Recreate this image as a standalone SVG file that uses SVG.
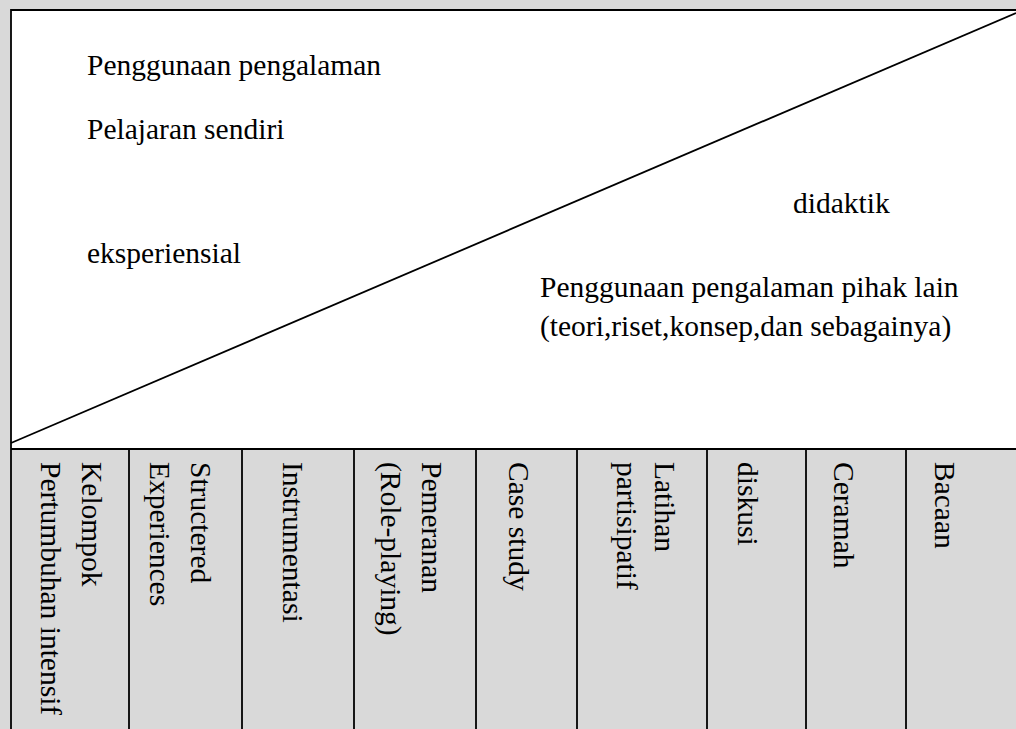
<svg xmlns="http://www.w3.org/2000/svg" width="1016" height="729" viewBox="0 0 1016 729">
<style>
.t{font-family:'Liberation Serif','Times New Roman',Times,'DejaVu Serif',serif;font-size:29.5px;fill:#000}
.ln{stroke:#000;stroke-width:1.8;fill:none}
</style>
<rect x="0" y="0" width="1016" height="729" fill="#d9d9d9"/>
<g id="top-box">
<rect x="11" y="10" width="1010" height="439" fill="#ffffff"/>
</g>
<g id="lines">
<line class="ln" x1="11" y1="10" x2="1016" y2="10"/>
<line class="ln" x1="11" y1="9" x2="11" y2="729"/>
<line class="ln" x1="11" y1="449" x2="1016" y2="449"/>
<line class="ln" x1="11" y1="443" x2="1016" y2="13"/>
<line class="ln" x1="129" y1="449" x2="129" y2="729"/>
<line class="ln" x1="242" y1="449" x2="242" y2="729"/>
<line class="ln" x1="354" y1="449" x2="354" y2="729"/>
<line class="ln" x1="476" y1="449" x2="476" y2="729"/>
<line class="ln" x1="577" y1="449" x2="577" y2="729"/>
<line class="ln" x1="707" y1="449" x2="707" y2="729"/>
<line class="ln" x1="806" y1="449" x2="806" y2="729"/>
<line class="ln" x1="906" y1="449" x2="906" y2="729"/>
</g>
<g font-family="Liberation Serif, serif" font-size="29.5" fill="#000">
<g id="experiential">
<text class="t" x="87" y="75">Penggunaan pengalaman</text>
<text class="t" x="87" y="139">Pelajaran sendiri</text>
<text class="t" x="87" y="263">eksperiensial</text>
</g>
<g id="didactic">
<text class="t" x="793" y="213">didaktik</text>
<text class="t" x="540" y="297">Penggunaan pengalaman pihak lain</text>
<text class="t" x="540" y="336">(teori,riset,konsep,dan sebagainya)</text>
</g>
<g id="col-kelompok">
<text class="t" transform="translate(82,462) rotate(90)">Kelompok</text>
<text class="t" transform="translate(41,462) rotate(90)">Pertumbuhan intensif</text>
</g>
<g id="col-structured">
<text class="t" transform="translate(191,462) rotate(90)">Structered</text>
<text class="t" transform="translate(150,462) rotate(90)">Experiences</text>
</g>
<g id="col-instrumentasi">
<text class="t" transform="translate(283,462) rotate(90)">Instrumentasi</text>
</g>
<g id="col-pemeranan">
<text class="t" transform="translate(422,462) rotate(90)">Pemeranan</text>
<text class="t" transform="translate(381,462) rotate(90)">(Role-playing)</text>
</g>
<g id="col-case">
<text class="t" transform="translate(509,462) rotate(90)">Case study</text>
</g>
<g id="col-latihan">
<text class="t" transform="translate(655,462) rotate(90)">Latihan</text>
<text class="t" transform="translate(617,462) rotate(90)">partisipatif</text>
</g>
<g id="col-diskusi">
<text class="t" transform="translate(738,462) rotate(90)">diskusi</text>
</g>
<g id="col-ceramah">
<text class="t" transform="translate(834,462) rotate(90)">Ceramah</text>
</g>
<g id="col-bacaan">
<text class="t" transform="translate(935,462) rotate(90)">Bacaan</text>
</g>
</g>
</svg>
